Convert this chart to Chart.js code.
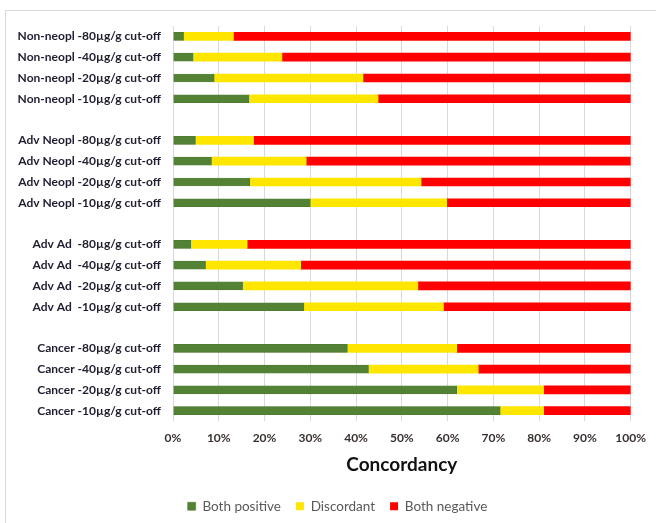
<!DOCTYPE html>
<html>
<head>
<meta charset="utf-8">
<script src="https://cdn.jsdelivr.net/npm/chart.js@4/dist/chart.umd.min.js"></script>
<style>
    html, body { margin: 0; padding: 0; background: #fff; }
    #wrap { position: relative; width: 656px; height: 523px; overflow: hidden; }
    #frame { position: absolute; left: 5px; top: 10px; width: 700px; height: 600px; border: 1px solid #d9d9d9; }
    canvas { position: absolute; left: 0; top: 0; }
</style>
</head>
<body>
<div id="wrap">
    <div id="frame"></div>
    <canvas id="chart" width="656" height="523"></canvas>
</div>
<script>
// Row labels, top to bottom (empty strings are the gaps between groups)
const labels = [
    'Non-neopl -80µg/g cut-off', 'Non-neopl -40µg/g cut-off', 'Non-neopl -20µg/g cut-off', 'Non-neopl -10µg/g cut-off',
    '',
    'Adv Neopl -80µg/g cut-off', 'Adv Neopl -40µg/g cut-off', 'Adv Neopl -20µg/g cut-off', 'Adv Neopl -10µg/g cut-off',
    '',
    'Adv Ad  -80µg/g cut-off', 'Adv Ad  -40µg/g cut-off', 'Adv Ad  -20µg/g cut-off', 'Adv Ad  -10µg/g cut-off',
    '',
    'Cancer -80µg/g cut-off', 'Cancer -40µg/g cut-off', 'Cancer -20µg/g cut-off', 'Cancer -10µg/g cut-off'
];

// Percentages per row
const bothPositive = [2.3, 4.4, 9.0, 16.6, null, 4.9, 8.4, 16.8, 30.0, null, 3.9, 7.1, 15.2, 28.6, null, 38.1, 42.7, 62.0, 71.5];
const discordant   = [10.9, 19.4, 32.5, 28.2, null, 12.7, 20.7, 37.4, 29.8, null, 12.3, 20.8, 38.3, 30.5, null, 23.9, 24.0, 19.0, 9.5];
const bothNegative = [86.8, 76.2, 58.5, 55.2, null, 82.4, 70.9, 45.8, 40.2, null, 83.8, 72.1, 46.5, 40.9, null, 38.0, 33.3, 19.0, 19.0];

const xTicks = [0, 10, 20, 30, 40, 50, 60, 70, 80, 90, 100];

// nudge the legend a bit to the right, like the original
const legendShift = {
    id: 'legendShift',
    afterLayout(chart) {
        chart.legend.left += 22;
        chart.legend.right += 22;
    }
};

const ctx = document.getElementById('chart').getContext('2d');
new Chart(ctx, {
    type: 'bar',
    data: {
        labels: labels,
        datasets: [
            { label: 'Both positive', data: bothPositive, backgroundColor: '#548235', borderColor: '#4a742e', borderWidth: 0.5 },
            { label: 'Discordant', data: discordant, backgroundColor: '#ffe600', borderWidth: 0 },
            { label: 'Both negative', data: bothNegative, backgroundColor: '#ff0000', borderWidth: 0 }
        ]
    },
    plugins: [legendShift],
    options: {
        indexAxis: 'y',
        responsive: false,
        animation: false,
        layout: { padding: { top: 26, right: 25, left: 0, bottom: 0 } },
        datasets: { bar: { barThickness: 8 } },
        plugins: {
            tooltip: { enabled: false },
            legend: {
                position: 'bottom',
                labels: {
                    boxWidth: 8, boxHeight: 8, padding: 15,
                    color: '#595959',
                    font: { family: 'Lato', size: 13.5 }
                }
            }
        },
        scales: {
            x: {
                stacked: true,
                min: 0, max: 100,
                afterBuildTicks: scale => { scale.ticks = xTicks.map(v => ({ value: v })); },
                grid: { color: '#d9d9d9', drawTicks: false },
                border: { display: false },
                ticks: {
                    padding: 10,
                    color: '#3a3030',
                    font: { family: 'Lato', size: 12, weight: 'bold' },
                    callback: v => v + '%'
                },
                title: {
                    display: true, text: 'Concordancy',
                    color: '#111',
                    font: { family: 'Lato', size: 19, weight: 'bold', lineHeight: 1.0 },
                    padding: { top: 0, bottom: 10 }
                }
            },
            y: {
                stacked: true,
                grid: { display: false, drawTicks: false },
                border: { display: false },
                afterFit: scale => { scale.width = 173; },
                ticks: {
                    padding: 12,
                    autoSkip: false,
                    color: '#1e1e30',
                    font: { family: 'Lato', size: 12, weight: 'bold' }
                }
            }
        }
    }
});
</script>
</body>
</html>
